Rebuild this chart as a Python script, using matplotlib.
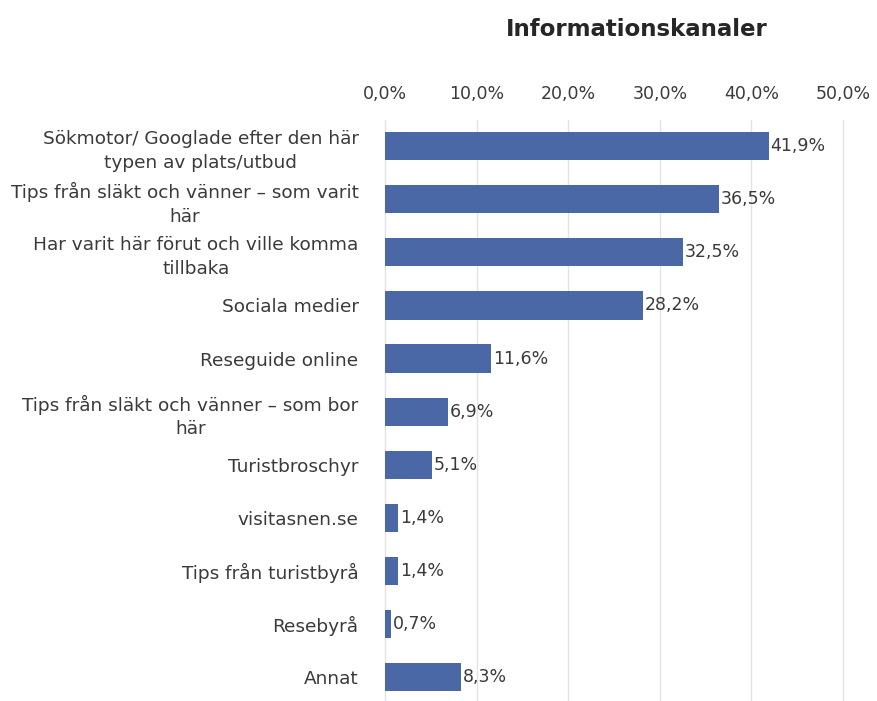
import matplotlib
matplotlib.use("Agg")
import matplotlib.pyplot as plt
from matplotlib.ticker import FuncFormatter

plt.rcParams['font.family'] = ['DejaVu Sans']

categories = [
    "Sökmotor/ Googlade efter den här\ntypen av plats/utbud",
    "Tips från släkt och vänner – som varit\nhär",
    "Har varit här förut och ville komma\ntillbaka",
    "Sociala medier",
    "Reseguide online",
    "Tips från släkt och vänner – som bor\nhär",
    "Turistbroschyr",
    "visitasnen.se",
    "Tips från turistbyrå",
    "Resebyrå",
    "Annat",
]
values = [41.9, 36.5, 32.5, 28.2, 11.6, 6.9, 5.1, 1.4, 1.4, 0.7, 8.3]
xticks = [0, 10, 20, 30, 40, 50]

bar_color = "#4a67a6"
text_color = "#3a3a3a"

fig = plt.figure(figsize=(8.78, 7.01), dpi=100)
ax = fig.add_axes([385 / 878, -0.004, 458 / 878, 0.8335])

ypos = list(range(len(categories)))
ax.barh(ypos, values, height=0.53, color=bar_color, zorder=3)
ax.set_ylim(len(categories) - 0.5, -0.5)
ax.set_xlim(0, 50)

for y, v in zip(ypos, values):
    ax.text(v + 0.2, y, f"{v:.1f}%".replace(".", ","), va="center", ha="left",
            fontsize=12.5, color=text_color, zorder=4)

ax.set_yticks(ypos)
ax.set_yticklabels(categories, fontsize=13.3, color=text_color, ha="right",
                   multialignment="center", linespacing=1.4)
ax.tick_params(axis="y", length=0, pad=19)

ax.set_xticks(xticks)
ax.xaxis.set_major_formatter(FuncFormatter(lambda x, p: f"{x:.1f}%".replace(".", ",")))
ax.xaxis.tick_top()
ax.tick_params(axis="x", length=0, pad=12, labelsize=12.5, labelcolor=text_color)

ax.grid(axis="x", color="#e3e3e3", linewidth=1, zorder=0)
for gl in ax.get_xgridlines():
    gl.set_clip_on(False)
for s in ax.spines.values():
    s.set_visible(False)

fig.text(637 / 878, 1 - 30 / 701, "Informationskanaler", ha="center", va="center",
         fontsize=16.5, fontweight="bold", color="#262626")

fig.savefig("out.png", dpi=100)
